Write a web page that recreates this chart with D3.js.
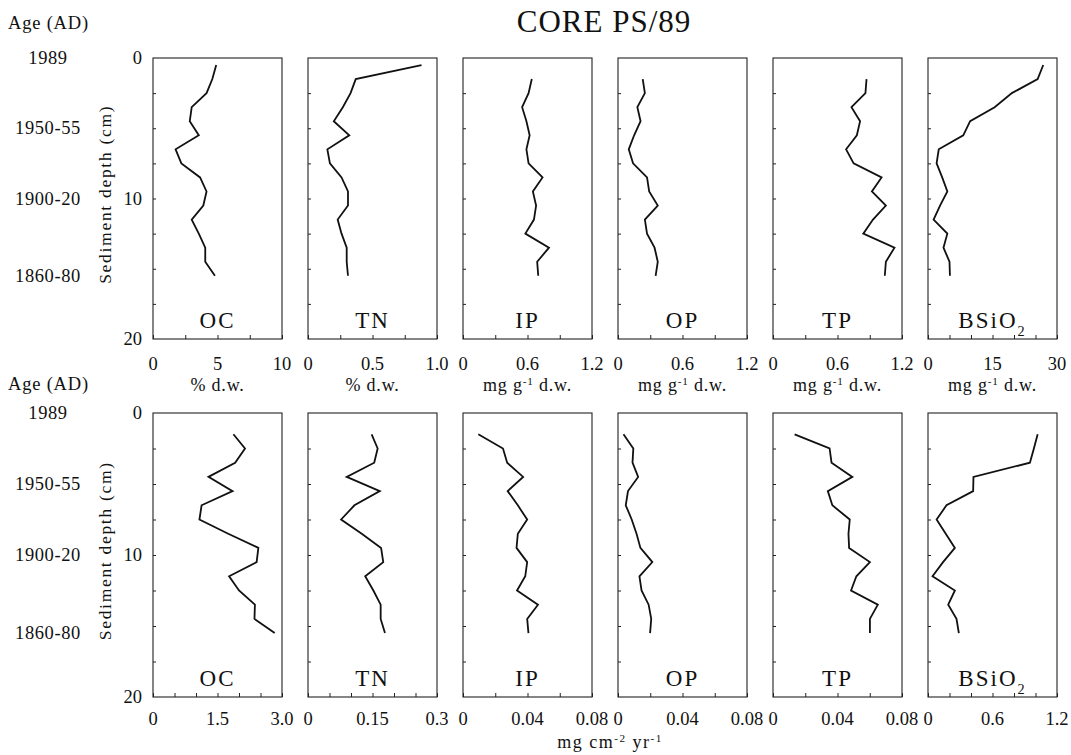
<!DOCTYPE html>
<html>
<head>
<meta charset="utf-8">
<script src="https://cdn.jsdelivr.net/npm/d3@7"></script>
<style>
  body { margin: 0; background: #fff; }
  svg text { font-family: "Liberation Serif", "Times New Roman", serif; fill: #111; }
</style>
</head>
<body>
<div id="chart"></div>
<script>
// sample mid-depths (cm)
const depths = [0.5, 1.5, 2.5, 3.5, 4.5, 5.5, 6.5, 7.5, 8.5, 9.5, 10.5, 11.5, 12.5, 13.5, 14.5, 15.5];

const ageLabels = ["1989", "1950-55", "1900-20", "1860-80"];
const ageDepths = [0, 5, 10, 15.5];
const depthTicks = [0, 10, 20];

const panelNames = ["OC", "TN", "IP", "OP", "TP", "BSiO2"];

// concentrations (top row)
const ocConc  = [4.9, 4.6, 4.15, 3.0, 2.85, 3.55, 1.75, 2.2, 3.65, 4.15, 3.9, 3.0, 3.55, 4.05, 4.05, 4.8];
const tnConc  = [0.88, 0.37, 0.33, 0.27, 0.20, 0.32, 0.15, 0.17, 0.26, 0.31, 0.31, 0.23, 0.26, 0.30, 0.30, 0.31];
const ipConc  = [null, 0.64, 0.61, 0.55, 0.59, 0.62, 0.59, 0.61, 0.74, 0.65, 0.68, 0.66, 0.58, 0.80, 0.69, 0.70];
const opConc  = [null, 0.23, 0.25, 0.18, 0.21, 0.15, 0.10, 0.14, 0.27, 0.29, 0.37, 0.25, 0.27, 0.34, 0.37, 0.35];
const tpConc  = [null, 0.87, 0.86, 0.73, 0.81, 0.78, 0.68, 0.75, 1.01, 0.92, 1.05, 0.93, 0.84, 1.13, 1.05, 1.04];
const bsiConc = [26.8, 25.5, 19.5, 15.5, 9.8, 8.2, 2.5, 2.0, 3.3, 4.5, 2.8, 1.3, 4.5, 3.6, 5.0, 5.1];

const concMax = [10, 1.0, 1.2, 1.2, 1.2, 30];
const concTickLabels = [["0", "5", "10"], ["0", "0.5", "1.0"], ["0", "0.6", "1.2"], ["0", "0.6", "1.2"], ["0", "0.6", "1.2"], ["0", "15", "30"]];
const concMinorStep = [2.5, 0.25, 0.3, 0.3, 0.3, 5];
const concUnits = ["% d.w.", "% d.w.", "mg g|-1| d.w.", "mg g|-1| d.w.", "mg g|-1| d.w.", "mg g|-1| d.w."];

// accumulation rates (bottom row)
const ocFlux  = [null, 1.87, 2.14, 1.91, 1.29, 1.85, 1.13, 1.08, 1.75, 2.45, 2.41, 1.77, 2.0, 2.37, 2.36, 2.83];
const tnFlux  = [null, 0.148, 0.162, 0.154, 0.09, 0.167, 0.108, 0.077, 0.125, 0.17, 0.175, 0.133, 0.152, 0.169, 0.169, 0.179];
const ipFlux  = [null, 0.0095, 0.0248, 0.0274, 0.0373, 0.0277, 0.034, 0.0398, 0.034, 0.0332, 0.0398, 0.0386, 0.0335, 0.0465, 0.0398, 0.0406];
const opFlux  = [null, 0.0034, 0.0095, 0.009, 0.0125, 0.0062, 0.0048, 0.0085, 0.0115, 0.0139, 0.0213, 0.0133, 0.0146, 0.019, 0.0206, 0.0199];
const tpFlux  = [null, 0.0134, 0.0351, 0.0363, 0.0492, 0.034, 0.0368, 0.0476, 0.0468, 0.0472, 0.0601, 0.0517, 0.0484, 0.065, 0.0601, 0.0601];
const bsiFlux = [null, 1.02, 0.985, 0.948, 0.423, 0.42, 0.172, 0.08, 0.165, 0.25, 0.14, 0.042, 0.25, 0.188, 0.265, 0.287];

const fluxMax = [3.0, 0.3, 0.08, 0.08, 0.08, 1.2];
const fluxTickLabels = [["0", "1.5", "3.0"], ["0", "0.15", "0.3"], ["0", "0.04", "0.08"], ["0", "0.04", "0.08"], ["0", "0.04", "0.08"], ["0", "0.6", "1.2"]];
const fluxMinorStep = [0.5, 0.05, 0.02, 0.02, 0.02, 0.2];
const fluxUnit = "mg cm|-2| yr|-1|";

const width = 1071, height = 755;
const svg = d3.select("#chart").append("svg")
    .attr("width", width)
    .attr("height", height);

// title
svg.append("text")
    .attr("x", 604).attr("y", 32)
    .attr("text-anchor", "middle")
    .attr("font-size", 31)
    .attr("letter-spacing", 1)
    .text("CORE PS/89");

// text with superscripts written as "a|-1| b"
function richText(sel, str) {
    str.split("|").forEach((part, i) => {
        if (!part) return;
        if (i % 2 === 1) {
            sel.append("tspan").attr("baseline-shift", "super").attr("font-size", "0.62em").text(part);
        } else {
            sel.append("tspan").text(part);
        }
    });
}

const panelW = 129, panelStep = 155, left0 = 153;

const rows = [
    { top: 58, bottom: 339, series: [ocConc, tnConc, ipConc, opConc, tpConc, bsiConc],
      max: concMax, labels: concTickLabels, minor: concMinorStep, tickY: 370, ageTitleY: 29 },
    { top: 413, bottom: 697, series: [ocFlux, tnFlux, ipFlux, opFlux, tpFlux, bsiFlux],
      max: fluxMax, labels: fluxTickLabels, minor: fluxMinorStep, tickY: 725, ageTitleY: 390 }
];

rows.forEach((row, r) => {
    const y = d3.scaleLinear().domain([0, 20]).range([row.top, row.bottom]);

    // age column
    svg.append("text")
        .attr("x", 8).attr("y", row.ageTitleY)
        .attr("font-size", 18.5).attr("letter-spacing", 0.8)
        .text("Age (AD)");
    svg.selectAll(null).data(ageLabels).enter().append("text")
        .attr("x", 48)
        .attr("y", (d, i) => y(ageDepths[i]) + 6)
        .attr("text-anchor", "middle")
        .attr("font-size", 18.5).attr("letter-spacing", 0.6)
        .text(d => d);

    // depth axis title
    svg.append("text")
        .attr("transform", `translate(111,${y(9.7)}) rotate(-90)`)
        .attr("text-anchor", "middle")
        .attr("font-size", 17.5).attr("letter-spacing", 1.7)
        .text("Sediment depth (cm)");

    // depth labels
    svg.selectAll(null).data(depthTicks).enter().append("text")
        .attr("x", 142)
        .attr("y", d => y(d) + 6)
        .attr("text-anchor", "end")
        .attr("font-size", 18.5)
        .text(d => d);

    row.series.forEach((vals, i) => {
        const left = left0 + i * panelStep;
        const x = d3.scaleLinear().domain([0, row.max[i]]).range([left, left + panelW]);
        const g = svg.append("g");

        // frame
        g.append("rect")
            .attr("x", left).attr("y", row.top)
            .attr("width", panelW).attr("height", row.bottom - row.top)
            .attr("fill", "none").attr("stroke", "#222").attr("stroke-width", 1.1);

        // inward ticks on bottom axis
        const minorVals = d3.range(0, row.max[i] + row.minor[i] / 2, row.minor[i]);
        const ax = g.append("g")
            .attr("transform", `translate(0,${row.bottom})`)
            .call(d3.axisBottom(x).tickValues(minorVals).tickSize(-4).tickFormat(""));
        ax.select(".domain").remove();
        ax.selectAll("line").attr("stroke", "#222");

        // inward ticks on left edge
        const ay = g.append("g")
            .attr("transform", `translate(${left},0)`)
            .call(d3.axisRight(y).tickValues(d3.range(2.5, 20, 2.5)).tickSize(3).tickFormat(""));
        ay.select(".domain").remove();
        ay.selectAll("line").attr("stroke", "#222");

        // tick labels
        const majors = [0, row.max[i] / 2, row.max[i]];
        g.selectAll(null).data(majors).enter().append("text")
            .attr("x", d => x(d))
            .attr("y", row.tickY)
            .attr("text-anchor", "middle")
            .attr("font-size", 18.5)
            .text((d, j) => row.labels[i][j]);

        // data line
        const pts = depths.map((d, k) => ({ d: d, v: vals[k] }));
        const line = d3.line().defined(p => p.v != null).x(p => x(p.v)).y(p => y(p.d));
        g.append("path")
            .datum(pts)
            .attr("d", line)
            .attr("fill", "none").attr("stroke", "#111")
            .attr("stroke-width", 1.8).attr("stroke-linejoin", "miter");

        // panel name
        const nameText = g.append("text")
            .attr("x", left + panelW / 2)
            .attr("y", row.bottom - 11)
            .attr("text-anchor", "middle")
            .attr("font-size", 23).attr("letter-spacing", 2);
        if (panelNames[i] === "BSiO2") {
            nameText.append("tspan").text("BSiO");
            nameText.append("tspan").attr("baseline-shift", "sub").attr("font-size", "0.62em").text("2");
        } else {
            nameText.text(panelNames[i]);
        }

        // units under each top-row panel
        if (r === 0) {
            const u = g.append("text")
                .attr("x", left + panelW / 2)
                .attr("y", 391)
                .attr("text-anchor", "middle")
                .attr("font-size", 18).attr("letter-spacing", 0.8);
            richText(u, concUnits[i]);
        }
    });
});

// shared unit for accumulation rates
const fu = svg.append("text")
    .attr("x", 610).attr("y", 748)
    .attr("text-anchor", "middle")
    .attr("font-size", 18).attr("letter-spacing", 1.5);
richText(fu, fluxUnit);
</script>
</body>
</html>
